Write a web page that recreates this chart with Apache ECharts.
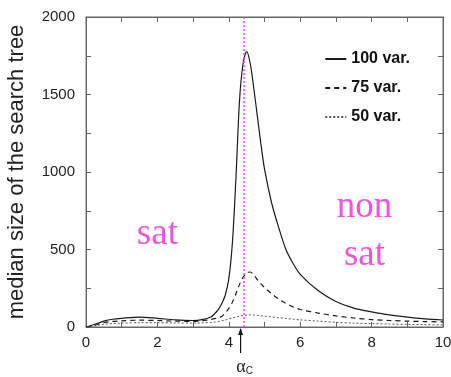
<!DOCTYPE html>
<html>
<head>
<meta charset="utf-8">
<script src="https://cdn.jsdelivr.net/npm/echarts@6/dist/echarts.min.js"></script>
<style>
  html, body { margin: 0; padding: 0; background: #fff; }
  #chart { width: 451px; height: 377px; }
</style>
</head>
<body>
<div id="chart"></div>
<script>
// Clause-to-variable ratio alpha
const alpha = [0, 0.25, 0.5, 0.75, 1, 1.5, 2, 2.5, 3, 3.25, 3.5, 3.6, 3.7, 3.8, 3.9,
  4.0, 4.1, 4.2, 4.3, 4.4, 4.5, 4.6, 4.7, 4.8, 4.9, 5.0, 5.2, 5.4, 5.6, 5.8, 6.0,
  6.5, 7.0, 7.5, 8.0, 8.5, 9, 9.5, 10];

// Median search-tree size for each problem size
const var100 = [0, 18, 38, 50, 56, 64, 56, 46, 42, 48, 65, 85, 110, 150, 205,
  310, 540, 960, 1460, 1700, 1776, 1700, 1540, 1360, 1180, 1020, 800, 640, 500, 410, 340,
  235, 165, 122, 98, 78, 64, 53, 45];
const var75 = [0, 12, 28, 36, 40, 44, 42, 38, 36, 40, 48, 54, 60, 68, 90,
  120, 160, 215, 275, 320, 350, 355, 335, 305, 278, 255, 215, 180, 152, 130, 113,
  90, 72, 58, 48, 42, 38, 35, 33];
const var50 = [0, 8, 18, 22, 25, 28, 28, 26, 25, 27, 30, 32, 35, 40, 45,
  52, 58, 64, 70, 74, 77, 78, 77, 75, 72, 70, 65, 60, 55, 50, 46,
  38, 30, 25, 22, 19, 17, 15, 13];

const seriesNames = ['100 var.', '75 var.', '50 var.'];
const xTicks = [0, 2, 4, 6, 8, 10];
const yTicks = [0, 500, 1000, 1500, 2000];

// Critical ratio marker and arrow position
const alphaLine = 4.43;
const alphaArrow = 4.33;

const pair = (ys) => alpha.map((a, i) => [a, ys[i]]);

const frameColor = '#666';
const tickFont = { fontFamily: 'Liberation Sans, Arial, sans-serif', fontSize: 15, color: '#222' };

function frameAxis(extra) {
  return Object.assign({
    type: 'value',
    axisLine: { show: true, onZero: false, lineStyle: { color: frameColor, width: 1 } },
    axisTick: { inside: true, length: 5, lineStyle: { color: frameColor } },
    minorTick: { show: true, splitNumber: 2, length: 5, lineStyle: { color: frameColor } },
    splitLine: { show: false },
    axisLabel: { show: false }
  }, extra);
}

const chart = echarts.init(document.getElementById('chart'), null, { renderer: 'canvas' });

const option = {
  backgroundColor: '#fff',
  animation: false,
  grid: {
    left: 86, right: 8, top: 17, bottom: 50,
    containLabel: false, outerBoundsMode: 'none',
    show: true, borderColor: frameColor, borderWidth: 1, backgroundColor: 'transparent'
  },
  legend: {
    orient: 'vertical',
    right: 36,
    top: 46,
    itemWidth: 21,
    itemHeight: 12,
    itemGap: 13,
    itemStyle: { opacity: 0 },
    data: seriesNames,
    textStyle: {
      fontFamily: 'Liberation Sans, Arial, sans-serif',
      fontWeight: 'bold',
      fontSize: 16,
      color: '#111',
      width: 60,
      align: 'right'
    }
  },
  xAxis: [
    frameAxis({
      position: 'bottom', min: 0, max: 10, interval: 2,
      axisLabel: Object.assign({ show: true, margin: 8, formatter: v => xTicks.includes(v) ? String(v) : '' }, tickFont)
    }),
    frameAxis({ position: 'top', min: 0, max: 10, interval: 2 })
  ],
  yAxis: [
    frameAxis({
      position: 'left', min: 0, max: 2000, interval: 500,
      name: 'median size of the search tree',
      nameLocation: 'middle',
      nameGap: 58,
      nameTextStyle: { fontFamily: 'Liberation Sans, Arial, sans-serif', fontSize: 22, color: '#222' },
      axisLabel: Object.assign({ show: true, margin: 11, formatter: v => yTicks.includes(v) ? String(v) : '' }, tickFont)
    }),
    frameAxis({ position: 'right', min: 0, max: 2000, interval: 500 })
  ],
  series: [{
    name: seriesNames[0], type: 'line', data: pair(var100), smooth: 0.3,
    symbol: 'none', color: '#1a1a1a',
    lineStyle: { color: '#1a1a1a', width: 1.2, type: 'solid' },
    markLine: {
      silent: true, symbol: 'none',
      label: { show: false },
      lineStyle: { color: '#e055e0', width: 1.5, type: [2, 2] },
      data: [{ xAxis: alphaLine }]
    }
  }, {
    name: seriesNames[1], type: 'line', data: pair(var75), smooth: 0.3,
    symbol: 'none', color: '#1a1a1a',
    lineStyle: { color: '#1a1a1a', width: 1.2, type: [5, 4] }
  }, {
    name: seriesNames[2], type: 'line', data: pair(var50), smooth: 0.3,
    symbol: 'none', color: '#555',
    lineStyle: { color: '#555', width: 1, type: [2, 2] }
  }]
};

chart.setOption(option);

// Region labels and the alpha_c arrow, placed from data coordinates
const p = (x, y) => chart.convertToPixel({ xAxisIndex: 0, yAxisIndex: 0 }, [x, y]);
const axisBase = p(alphaArrow, 0);
const satPos = p(2.0, 600);
const nonPos = p(7.8, 770);
const nonSatPos = p(7.8, 465);
const regionText = {
  fontFamily: 'Liberation Serif, Times New Roman, serif',
  fontSize: 37,
  fill: '#ee55dd',
  textAlign: 'center',
  textVerticalAlign: 'middle'
};

chart.setOption({
  graphic: [
    { type: 'text', x: satPos[0], y: satPos[1], style: Object.assign({ text: 'sat' }, regionText) },
    { type: 'text', x: nonPos[0], y: nonPos[1], style: Object.assign({ text: 'non' }, regionText) },
    { type: 'text', x: nonSatPos[0], y: nonSatPos[1], style: Object.assign({ text: 'sat' }, regionText) },
    {
      type: 'line',
      shape: { x1: axisBase[0], y1: axisBase[1] + 26, x2: axisBase[0], y2: axisBase[1] + 2 },
      style: { stroke: '#111', lineWidth: 1.2 }
    },
    {
      type: 'polygon',
      shape: { points: [[axisBase[0], axisBase[1] + 1], [axisBase[0] - 2.5, axisBase[1] + 8], [axisBase[0] + 2.5, axisBase[1] + 8]] },
      style: { fill: '#111' }
    },
    {
      type: 'text', x: axisBase[0] + 4, y: axisBase[1] + 40,
      style: {
        text: '{a|α}{s|C}',
        textAlign: 'center',
        textVerticalAlign: 'middle',
        rich: {
          a: { fontFamily: 'Liberation Serif, serif', fontSize: 18, fill: '#222' },
          s: { fontFamily: 'Liberation Sans, sans-serif', fontSize: 10, fill: '#222', padding: [8, 0, 0, 0] }
        }
      }
    }
  ]
});
</script>
</body>
</html>
